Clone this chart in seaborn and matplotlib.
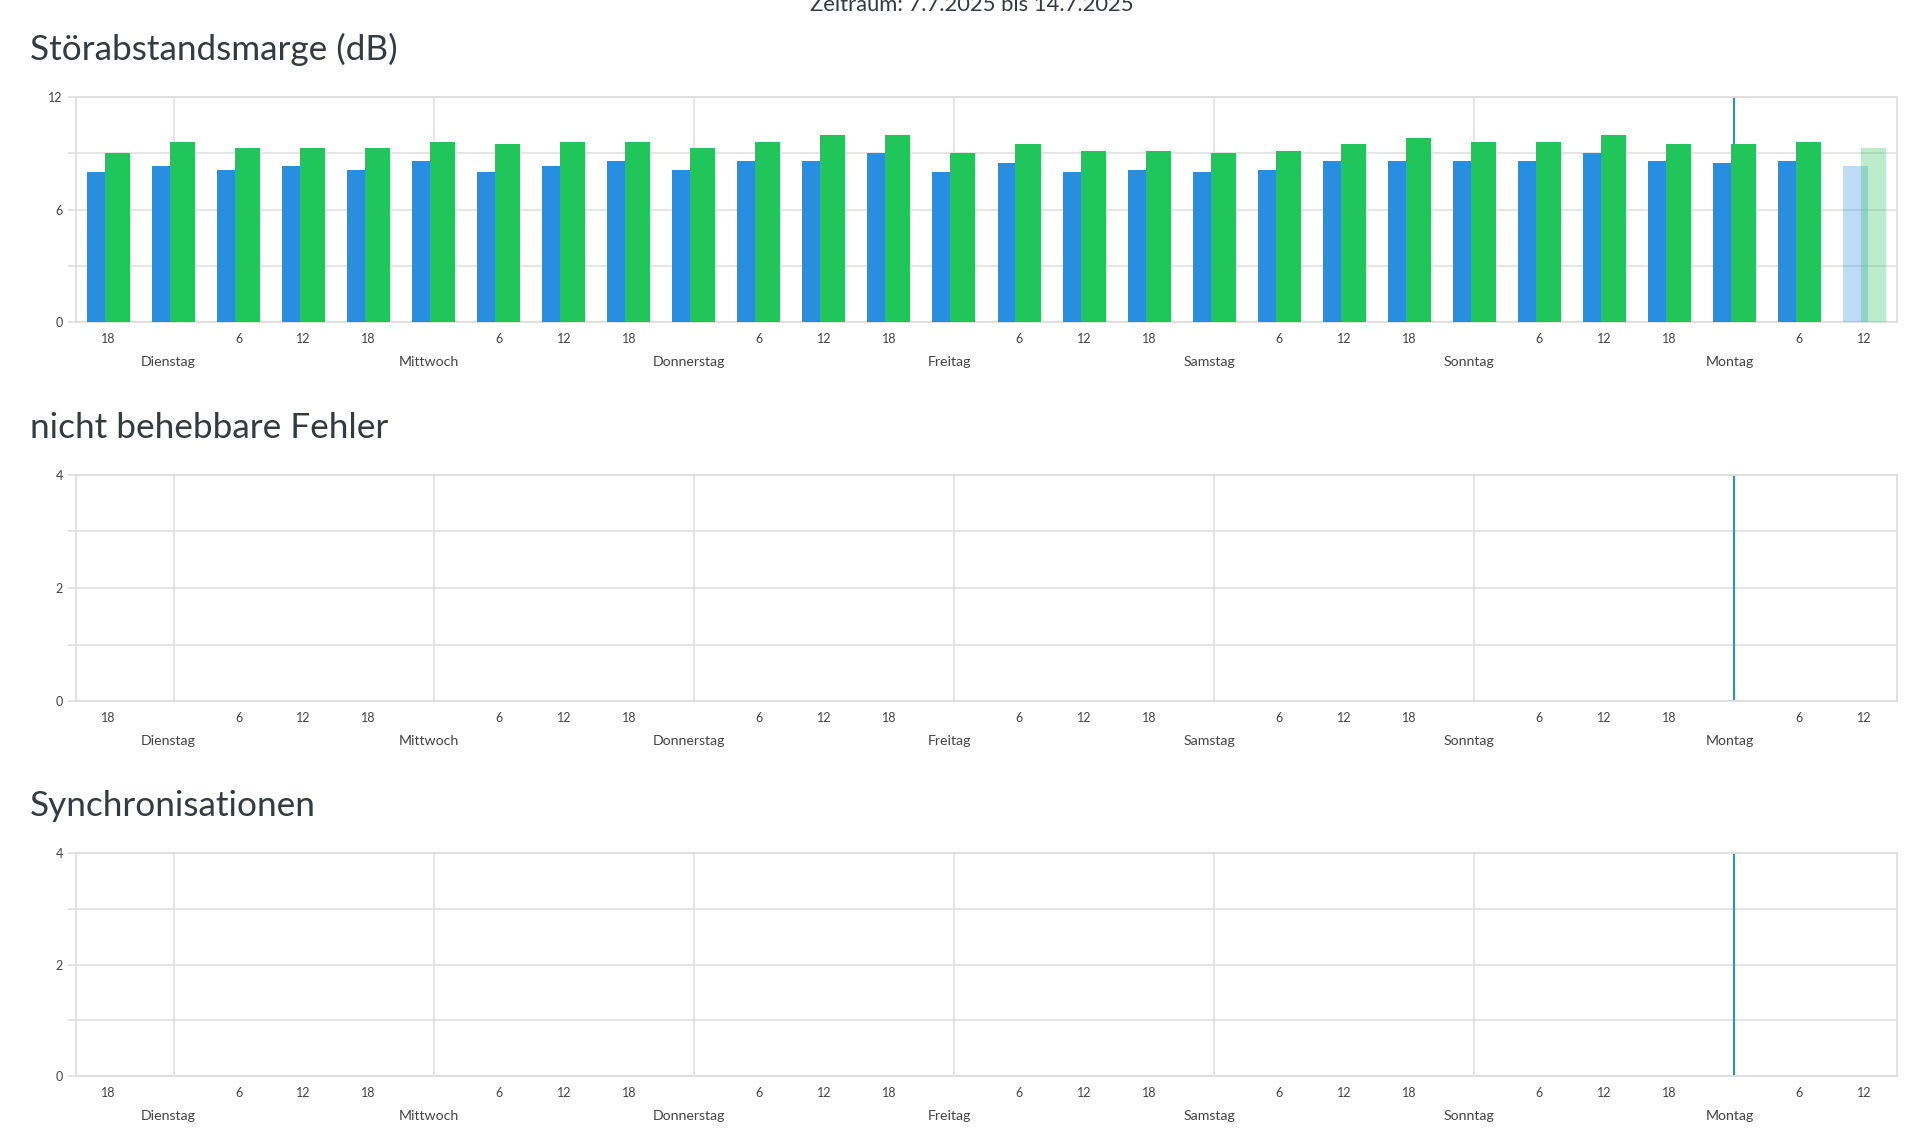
import matplotlib
matplotlib.use('Agg')
import matplotlib.pyplot as plt
import matplotlib.transforms as mtransforms
import seaborn as sns
import pandas as pd

# Zeitachse in Stunden ab Mo 7.7.2025 00:00
slot_stunden = [18, 24, 30, 36, 42, 48, 54, 60, 66, 72, 78, 84, 90, 96,
                102, 108, 114, 120, 126, 132, 138, 144, 150, 156, 162, 168, 174, 180]

tage = ['Dienstag', 'Mittwoch', 'Donnerstag', 'Freitag', 'Samstag', 'Sonntag', 'Montag']
tag_grenzen = [24, 48, 72, 96, 120, 144, 168]

stunden_ticks = [18, 30, 36, 42, 54, 60, 66, 78, 84, 90, 102, 108, 114, 126,
                 132, 138, 150, 156, 162, 174, 180]
stunden_labels = ['18', '6', '12', '18', '6', '12', '18', '6', '12', '18', '6',
                  '12', '18', '6', '12', '18', '6', '12', '18', '6', '12']

# Störabstandsmarge (dB)
snr_blau = [8.0, 8.3, 8.1, 8.3, 8.1, 8.6, 8.0, 8.3, 8.6, 8.1, 8.6, 8.6, 9.0, 8.0,
            8.5, 8.0, 8.1, 8.0, 8.1, 8.6, 8.6, 8.6, 8.6, 9.0, 8.6, 8.5, 8.6, 8.3]
snr_gruen = [9.0, 9.6, 9.3, 9.3, 9.3, 9.6, 9.5, 9.6, 9.6, 9.3, 9.6, 10.0, 10.0, 9.0,
             9.5, 9.1, 9.1, 9.0, 9.1, 9.5, 9.8, 9.6, 9.6, 10.0, 9.5, 9.5, 9.6, 9.3]

# nicht behebbare Fehler / Synchronisationen (keine Ereignisse)
fehler_blau = [0, 0, 0, 0, 0, 0, 0, 0, 0, 0, 0, 0, 0, 0, 0, 0, 0, 0, 0, 0, 0, 0, 0, 0, 0, 0, 0, 0]
fehler_gruen = [0, 0, 0, 0, 0, 0, 0, 0, 0, 0, 0, 0, 0, 0, 0, 0, 0, 0, 0, 0, 0, 0, 0, 0, 0, 0, 0, 0]
sync_blau = [0, 0, 0, 0, 0, 0, 0, 0, 0, 0, 0, 0, 0, 0, 0, 0, 0, 0, 0, 0, 0, 0, 0, 0, 0, 0, 0, 0]
sync_gruen = [0, 0, 0, 0, 0, 0, 0, 0, 0, 0, 0, 0, 0, 0, 0, 0, 0, 0, 0, 0, 0, 0, 0, 0, 0, 0, 0, 0]

heute = 168  # Mo 14.7. 00:00

BLAU = '#288ee0'
GRUEN = '#20c65a'
GRID = '#dedede'
TEXT = '#444444'
TITEL = '#343a40'

sns.set_style('white')
plt.rcParams['font.family'] = ['Lato', 'DejaVu Sans']


def zeichne_diagramm(fig, ax, blau, gruen, ymax, yticks, yminor):
    """Balken + Achsen im Stil des Routers"""
    df = pd.DataFrame({'Stunde': slot_stunden, 'blau': blau, 'gruen': gruen})

    # zwei Reihen, leicht überlappend
    for spalte, farbe, versatz in [('blau', BLAU, -0.83), ('gruen', GRUEN, 0.83)]:
        sns.barplot(x=df['Stunde'] + versatz, y=df[spalte], native_scale=True,
                    width=0.385, color=farbe, saturation=1, errorbar=None,
                    linewidth=0, zorder=3, ax=ax)
        # laufender Zeitraum blass
        ax.containers[-1][-1].set_alpha(0.3)

    ax.axvline(heute, color=BLAU, lw=1.5, zorder=2)

    ax.set_xlim(15, 183)
    ax.set_ylim(0, ymax)
    ax.set_xlabel('')
    ax.set_ylabel('')

    ax.set_xticks(tag_grenzen, tage)
    ax.set_xticks(stunden_ticks, stunden_labels, minor=True)
    ax.tick_params(axis='x', which='major', length=17, width=1.1, pad=7.5,
                   color=GRID, labelsize=10.2, labelcolor=TEXT)
    ax.tick_params(axis='x', which='minor', length=0, pad=8,
                   labelsize=9, labelcolor=TEXT)
    # Tagesnamen sitzen etwas links der Trennlinie
    versatz_links = mtransforms.ScaledTranslation(-5 / 100, 0, fig.dpi_scale_trans)
    for lbl in ax.get_xticklabels():
        lbl.set_transform(lbl.get_transform() + versatz_links)

    ax.set_yticks(yticks)
    ax.set_yticks(yminor, minor=True)
    ax.tick_params(axis='y', which='both', length=5.8, width=1.1, pad=3.6,
                   color=GRID, labelsize=9, labelcolor=TEXT, left=True)

    ax.set_axisbelow(True)
    ax.grid(axis='x', which='major', color=GRID, lw=1.1)
    ax.grid(axis='y', which='both', color=GRID, lw=1.1)
    for spine in ax.spines.values():
        spine.set_color(GRID)
        spine.set_linewidth(1.3)


fig = plt.figure(figsize=(19.2, 11.31), dpi=100)
W, H = 1920, 1131

diagramme = [
    ('Störabstandsmarge (dB)', snr_blau, snr_gruen, 12, [0, 6, 12], [3, 9], 97, 322),
    ('nicht behebbare Fehler', fehler_blau, fehler_gruen, 4, [0, 2, 4], [1, 3], 475, 701),
    ('Synchronisationen', sync_blau, sync_gruen, 4, [0, 2, 4], [1, 3], 853, 1076),
]

for titel, blau, gruen, ymax, yticks, yminor, oben, unten in diagramme:
    ax = fig.add_axes([76 / W, 1 - unten / H, (1897 - 76) / W, (unten - oben) / H])
    zeichne_diagramm(fig, ax, blau, gruen, ymax, yticks, yminor)
    fig.text(30 / W, 1 - (oben - 37) / H, titel, fontsize=25.3, color=TITEL,
             ha='left', va='baseline')

fig.text(972 / W, 1 - 11 / H, 'Zeitraum: 7.7.2025 bis 14.7.2025', fontsize=15.8,
         color=TITEL, ha='center', va='baseline')

fig.savefig('out.png', dpi=100, facecolor='white')
